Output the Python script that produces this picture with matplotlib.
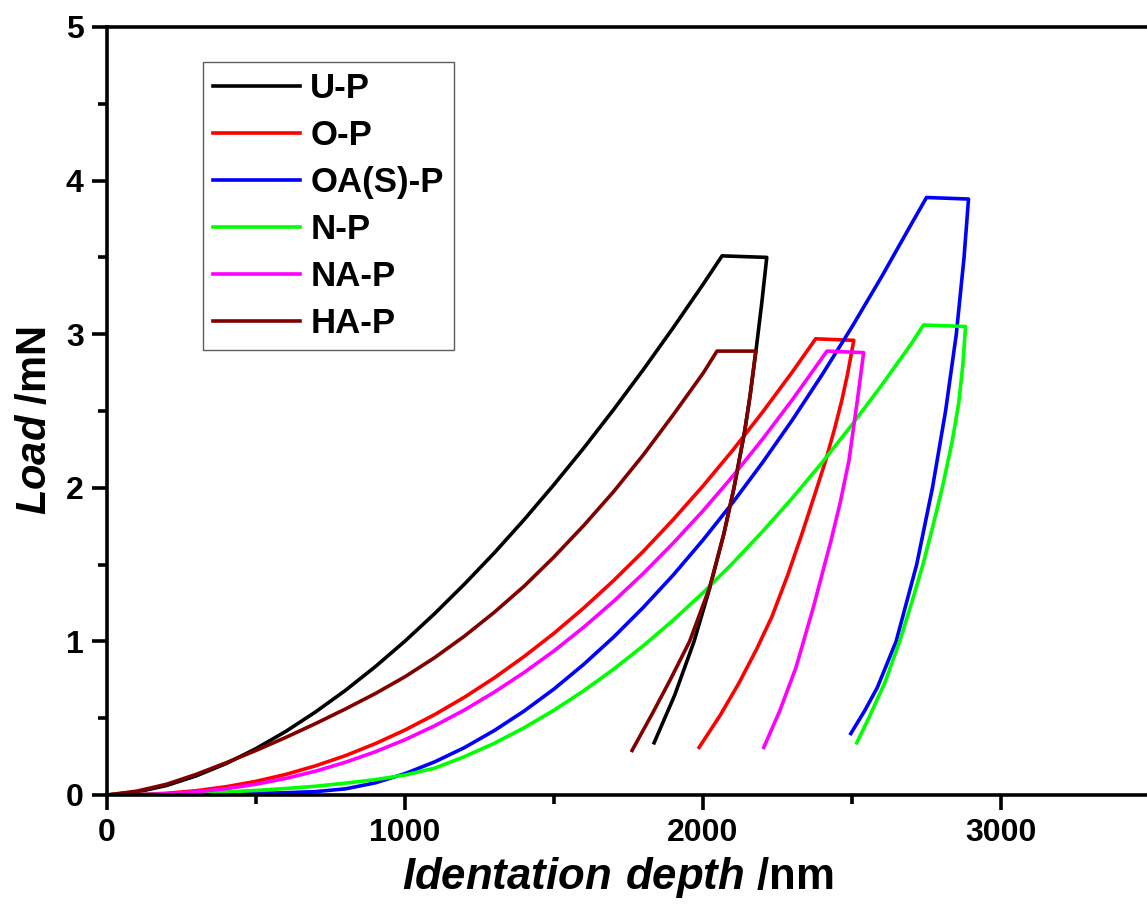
import matplotlib
matplotlib.use("Agg")
import matplotlib.pyplot as plt
from matplotlib.ticker import MultipleLocator

plt.rcParams['font.family'] = ['Liberation Sans', 'DejaVu Sans']
plt.rcParams['mathtext.fontset'] = 'custom'
plt.rcParams['mathtext.bf'] = 'Liberation Sans:bold:italic'
plt.rcParams['mathtext.rm'] = 'Liberation Sans:bold'

# Indentation cycles: loading branch, hold at peak load, unloading branch
up_depth = [0, 100, 200, 300, 400, 500, 600, 700, 800, 900, 1000, 1100, 1200, 1300, 1400,
            1500, 1600, 1700, 1800, 1900, 2000, 2064,
            2214, 2197, 2177, 2158, 2140, 2104, 2070, 2023, 1970, 1905, 1836]
up_load = [0, 0.019, 0.062, 0.125, 0.205, 0.302, 0.414, 0.541, 0.681, 0.835, 1.002, 1.182, 1.374, 1.577, 1.793,
           2.021, 2.259, 2.509, 2.770, 3.042, 3.324, 3.51,
           3.50, 3.20, 2.88, 2.60, 2.37, 2.00, 1.70, 1.35, 1.00, 0.65, 0.34]

op_depth = [0, 100, 200, 300, 400, 500, 600, 700, 800, 900, 1000, 1100, 1200, 1300, 1400,
            1500, 1600, 1700, 1800, 1900, 2000, 2100, 2200, 2300, 2378,
            2506, 2486, 2466, 2441, 2412, 2374, 2332, 2284, 2231, 2180, 2121, 2058, 1987]
op_load = [0, 0.002, 0.011, 0.028, 0.054, 0.089, 0.134, 0.190, 0.256, 0.334, 0.423, 0.524, 0.637, 0.763, 0.902,
           1.053, 1.218, 1.396, 1.587, 1.793, 2.012, 2.245, 2.493, 2.755, 2.97,
           2.96, 2.75, 2.57, 2.38, 2.18, 1.95, 1.70, 1.43, 1.16, 0.95, 0.73, 0.52, 0.31]

oas_depth = [0, 100, 200, 300, 400, 500, 600, 700, 800, 900, 1000, 1100, 1200, 1300, 1400,
             1500, 1600, 1700, 1800, 1900, 2000, 2100, 2200, 2300, 2400, 2500, 2600, 2700, 2750,
             2891, 2876, 2850, 2814, 2770, 2717, 2648, 2585, 2543, 2496]
oas_load = [0, 0.0, 0.001, 0.003, 0.006, 0.010, 0.015, 0.022, 0.040, 0.079, 0.139, 0.216, 0.309, 0.420, 0.547,
            0.690, 0.851, 1.028, 1.222, 1.432, 1.660, 1.904, 2.165, 2.442, 2.737, 3.048, 3.376, 3.720, 3.89,
            3.88, 3.50, 3.00, 2.50, 2.00, 1.50, 1.00, 0.70, 0.55, 0.40]

np_depth = [0, 100, 200, 300, 400, 500, 600, 700, 800, 900, 1000, 1100, 1200, 1300, 1400,
            1500, 1600, 1700, 1800, 1900, 2000, 2100, 2200, 2300, 2400, 2500, 2600, 2700, 2740,
            2881, 2872, 2858, 2836, 2803, 2770, 2738, 2703, 2660, 2610, 2556, 2516]
np_load = [0, 0.002, 0.006, 0.012, 0.020, 0.030, 0.042, 0.057, 0.077, 0.100, 0.130, 0.175, 0.250, 0.337, 0.438,
           0.552, 0.679, 0.819, 0.972, 1.138, 1.317, 1.510, 1.716, 1.934, 2.166, 2.411, 2.669, 2.941, 3.06,
           3.05, 2.80, 2.55, 2.30, 2.00, 1.74, 1.50, 1.27, 1.00, 0.73, 0.50, 0.34]

nap_depth = [0, 100, 200, 300, 400, 500, 600, 700, 800, 900, 1000, 1100, 1200, 1300, 1400,
             1500, 1600, 1700, 1800, 1900, 2000, 2100, 2200, 2300, 2416,
             2539, 2518, 2490, 2460, 2430, 2370, 2312, 2258, 2204]
nap_load = [0, 0.002, 0.008, 0.021, 0.041, 0.070, 0.108, 0.155, 0.213, 0.281, 0.360, 0.451, 0.554, 0.670, 0.798,
            0.938, 1.093, 1.261, 1.443, 1.640, 1.850, 2.076, 2.317, 2.574, 2.89,
            2.88, 2.57, 2.18, 1.90, 1.66, 1.22, 0.83, 0.55, 0.31]

hap_depth = [0, 100, 200, 300, 400, 500, 600, 700, 800, 900, 1000, 1100, 1200, 1300, 1400,
             1500, 1600, 1700, 1800, 1900, 2000, 2047,
             2177, 2158, 2140, 2104, 2070, 2022, 1955, 1890, 1830, 1762]
hap_load = [0, 0.025, 0.070, 0.135, 0.210, 0.290, 0.375, 0.465, 0.560, 0.660, 0.770, 0.895, 1.035, 1.190, 1.360,
            1.550, 1.755, 1.975, 2.215, 2.475, 2.745, 2.89,
            2.89, 2.60, 2.37, 2.00, 1.70, 1.35, 1.00, 0.75, 0.53, 0.29]

labels = ['U-P', 'O-P', 'OA(S)-P', 'N-P', 'NA-P', 'HA-P']
colors = ['#000000', '#ff0000', '#0000ff', '#00ff00', '#ff00ff', '#800000']
series = [(up_depth, up_load), (op_depth, op_load), (oas_depth, oas_load),
          (np_depth, np_load), (nap_depth, nap_load), (hap_depth, hap_load)]

W, H = 1147, 914
fig = plt.figure(figsize=(W / 100, H / 100), dpi=100)
ax = fig.add_axes([107 / W, (H - 795) / H, (1150 - 107) / W, (795 - 27) / H])

for (d, p), lab, c in zip(series, labels, colors):
    ax.plot(d, p, color=c, lw=2.6, label=lab, solid_joinstyle='round')

ax.set_xlim(0, 3500)
ax.set_ylim(0, 5)
ax.xaxis.set_major_locator(MultipleLocator(1000))
ax.xaxis.set_minor_locator(MultipleLocator(500))
ax.yaxis.set_major_locator(MultipleLocator(1))
ax.yaxis.set_minor_locator(MultipleLocator(0.5))
ax.tick_params(which='both', direction='out', width=2.6, top=False, right=False)
ax.tick_params(which='major', length=10.8, labelsize=23, pad=6)
ax.tick_params(which='minor', length=6.5)
for lab in ax.get_xticklabels() + ax.get_yticklabels():
    lab.set_fontweight('bold')
for s in ax.spines.values():
    s.set_linewidth(2.6)

ax.set_xlabel(r'$\mathbf{Identation\ depth}$ /nm', fontsize=31.5, fontweight='bold', labelpad=5)
ax.set_ylabel(r'$\mathbf{Load}$ /mN', fontsize=30, fontweight='bold', labelpad=8)
ax.xaxis.label.set_x(0.4895)
ax.yaxis.label.set_y(0.487)

leg = ax.legend(loc='upper left', bbox_to_anchor=((203 - 107) / 1043, (795 - 62) / 768),
                borderaxespad=0, fontsize=25, frameon=True, fancybox=False,
                edgecolor='#333333', handlelength=2.5, handletextpad=0.29,
                labelspacing=0.40, borderpad=0.3)
leg.get_frame().set_linewidth(1.0)
for t in leg.get_texts():
    t.set_fontweight('bold')

fig.savefig('out.png', dpi=100)
